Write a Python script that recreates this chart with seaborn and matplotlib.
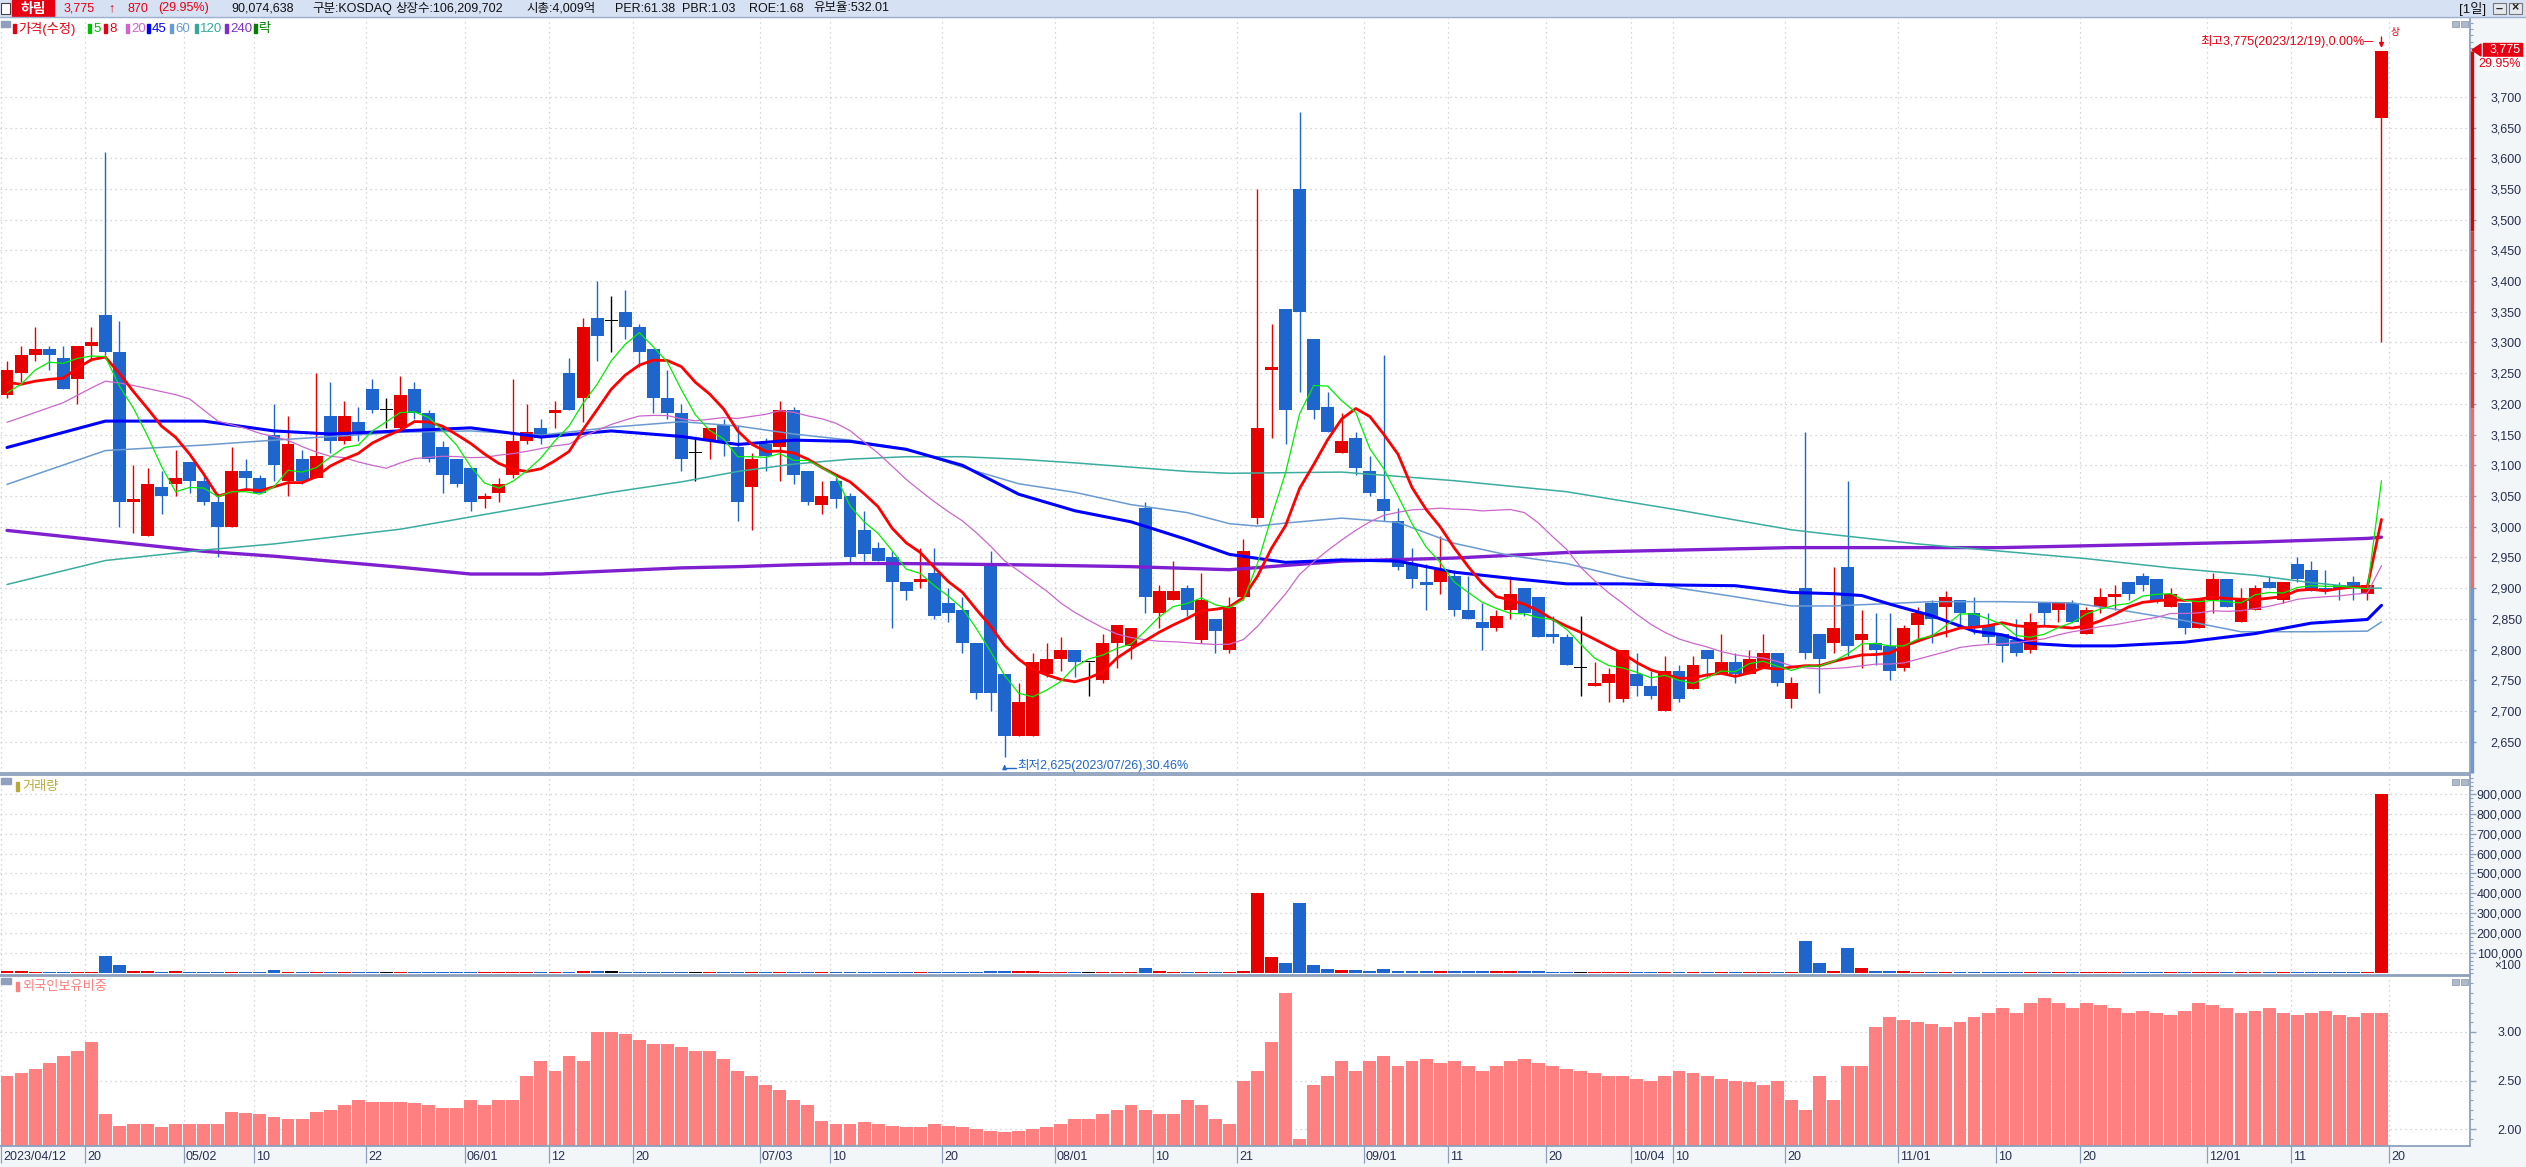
import numpy as np
import pandas as pd
import matplotlib
matplotlib.use("Agg")
import matplotlib.pyplot as plt
import seaborn as sns
from matplotlib.patches import Rectangle, Polygon
from matplotlib.lines import Line2D
from matplotlib.ticker import MultipleLocator
from matplotlib.transforms import blended_transform_factory, ScaledTranslation

# ---------------- data ----------------
opens = [3215,3250,3280,3290,3275,3240,3295,3345,3285,3040,
         2985,3065,3070,3105,3075,3040,3000,3090,3080,3150,
         3075,3110,3080,3180,3140,3170,3225,3190,3160,3225,
         3185,3130,3110,3095,3045,3055,3085,3140,3160,3185,
         3250,3210,3340,3335,3350,3325,3290,3210,3185,3120,
         3140,3165,3130,3065,3135,3130,3190,3090,3035,3075,
         3050,2995,2965,2950,2910,2910,2925,2875,2865,2810,
         2940,2760,2660,2660,2760,2785,2800,2780,2750,2810,
         2805,3030,2860,2880,2900,2815,2850,2800,2885,3015,
         3255,3355,3550,3305,3195,3120,3145,3090,3045,3010,
         2940,2910,2910,2920,2865,2845,2835,2865,2900,2885,
         2825,2820,2770,2740,2745,2720,2760,2740,2700,2765,
         2735,2800,2760,2780,2760,2770,2795,2720,2900,2825,
         2810,2935,2815,2810,2805,2770,2840,2875,2870,2880,
         2860,2840,2825,2815,2800,2875,2865,2875,2825,2870,
         2885,2910,2920,2915,2870,2875,2835,2880,2915,2845,
         2865,2910,2880,2940,2930,2900,2905,2910,2890,3665]
highs = [3270,3295,3325,3295,3295,3295,3325,3610,3335,3100,
         3095,3090,3125,3105,3085,3055,3130,3110,3085,3200,
         3180,3125,3250,3235,3205,3195,3240,3210,3245,3235,
         3190,3140,3110,3095,3055,3080,3240,3200,3175,3205,
         3275,3340,3400,3375,3385,3330,3290,3255,3200,3145,
         3160,3175,3165,3120,3145,3205,3195,3090,3075,3080,
         3055,3025,2975,2960,2910,2965,2965,2900,2885,2810,
         2960,2760,2745,2795,2810,2820,2800,2780,2825,2840,
         2835,3040,2905,2945,2905,2925,2850,2885,2980,3550,
         3330,3355,3675,3305,3220,3185,3155,3115,3280,3030,
         2965,2940,2985,2930,2920,2875,2865,2920,2900,2885,
         2855,2825,2855,2780,2770,2800,2795,2765,2790,2775,
         2790,2800,2825,2795,2800,2825,2795,2755,3155,2825,
         2935,3075,2865,2860,2860,2840,2870,2880,2895,2880,
         2885,2860,2825,2850,2860,2875,2875,2880,2870,2900,
         2905,2910,2925,2915,2900,2875,2880,2925,2915,2900,
         2905,2920,2910,2950,2945,2930,2910,2920,2905,3775]
lows = [3210,3235,3270,3255,3225,3200,3270,3280,3000,2990,
        2985,3020,3050,3055,3035,2950,3000,3060,3055,3075,
        3050,3070,3080,3120,3135,3140,3185,3160,3155,3175,
        3105,3055,3065,3025,3030,3040,3080,3135,3135,3160,
        3190,3170,3270,3285,3305,3260,3185,3175,3090,3075,
        3110,3115,3010,2995,3090,3075,3070,3035,3020,3030,
        2940,2945,2945,2835,2880,2900,2850,2845,2795,2720,
        2700,2625,2660,2660,2755,2765,2755,2725,2745,2770,
        2785,2860,2835,2880,2855,2810,2795,2795,2880,3005,
        3145,3135,3220,3175,3155,3120,3085,3050,3010,2930,
        2900,2865,2890,2855,2850,2800,2830,2850,2855,2820,
        2810,2775,2725,2740,2715,2715,2725,2720,2700,2715,
        2735,2755,2760,2745,2760,2770,2740,2705,2785,2730,
        2795,2790,2770,2775,2750,2765,2815,2810,2820,2835,
        2825,2810,2780,2790,2795,2840,2845,2845,2825,2860,
        2865,2880,2895,2875,2870,2825,2835,2860,2870,2845,
        2865,2900,2875,2910,2895,2890,2880,2880,2880,3300]
closes = [3255,3280,3290,3280,3225,3295,3300,3285,3040,3045,
          3070,3050,3080,3075,3040,3000,3090,3080,3055,3100,
          3135,3075,3115,3140,3180,3155,3190,3190,3215,3185,
          3110,3085,3070,3040,3050,3070,3140,3155,3145,3190,
          3190,3325,3310,3335,3325,3285,3210,3185,3110,3120,
          3160,3140,3040,3110,3115,3190,3085,3040,3050,3045,
          2950,2955,2945,2910,2895,2915,2855,2860,2810,2730,
          2730,2660,2715,2780,2785,2800,2780,2780,2810,2840,
          2835,2885,2895,2895,2865,2880,2830,2870,2960,3160,
          3260,3190,3350,3190,3155,3140,3095,3055,3025,2935,
          2915,2905,2930,2865,2850,2835,2855,2890,2860,2820,
          2820,2775,2770,2745,2760,2800,2740,2725,2765,2720,
          2775,2785,2780,2760,2785,2795,2745,2745,2795,2785,
          2835,2805,2825,2800,2765,2835,2860,2850,2885,2860,
          2835,2820,2805,2795,2845,2860,2875,2845,2865,2885,
          2890,2890,2905,2880,2890,2835,2880,2915,2870,2880,
          2900,2900,2910,2915,2895,2895,2900,2900,2905,3775]
# volume in units of 100 shares
volume = [6000,6000,5000,5000,5000,5000,5000,85000,40000,10000,
          10000,5000,10000,5000,5000,5000,5000,5000,5000,15000,
          5000,5000,5000,5000,5000,5000,5000,5000,5000,5000,
          5000,5000,5000,5000,5000,5000,5000,5000,5000,5000,
          5000,8000,8000,6000,5000,5000,5000,5000,5000,5000,
          5000,5000,5000,5000,5000,5000,5000,5000,5000,5000,
          5000,5000,5000,5000,5000,5000,5000,5000,5000,5000,
          6000,8000,6000,6000,5000,5000,5000,5000,5000,5000,
          5000,25000,6000,5000,5000,5000,5000,5000,8000,400000,
          80000,50000,350000,40000,20000,15000,12000,10000,20000,8000,
          6000,6000,6000,6000,6000,6000,6000,6000,6000,6000,
          5000,5000,5000,5000,5000,5000,5000,5000,5000,5000,
          5000,5000,5000,5000,5000,5000,5000,5000,160000,50000,
          10000,125000,25000,8000,6000,6000,5000,5000,5000,5000,
          5000,5000,5000,5000,5000,5000,5000,5000,5000,5000,
          5000,5000,5000,5000,5000,5000,5000,5000,5000,5000,
          5000,5000,5000,5000,5000,5000,5000,5000,5000,900746]
# foreign ownership ratio (%)
foreign = [2.55,2.58,2.62,2.68,2.75,2.80,2.90,2.15,2.03,2.05,
           2.05,2.02,2.05,2.05,2.05,2.05,2.18,2.17,2.15,2.12,
           2.10,2.10,2.18,2.20,2.25,2.30,2.28,2.28,2.28,2.27,
           2.25,2.22,2.22,2.30,2.25,2.30,2.30,2.55,2.70,2.60,
           2.75,2.70,3.00,3.00,2.98,2.92,2.88,2.88,2.85,2.80,
           2.80,2.72,2.60,2.55,2.45,2.40,2.30,2.25,2.08,2.05,
           2.05,2.07,2.05,2.03,2.02,2.02,2.05,2.03,2.02,2.00,
           1.98,1.97,1.98,2.00,2.02,2.05,2.10,2.10,2.15,2.20,
           2.25,2.20,2.15,2.15,2.30,2.25,2.10,2.05,2.50,2.60,
           2.90,3.40,1.90,2.45,2.55,2.70,2.60,2.70,2.75,2.65,
           2.70,2.72,2.68,2.70,2.65,2.60,2.65,2.70,2.72,2.68,
           2.65,2.62,2.60,2.58,2.55,2.55,2.52,2.50,2.55,2.60,
           2.58,2.55,2.52,2.50,2.48,2.45,2.50,2.30,2.20,2.55,
           2.30,2.65,2.65,3.05,3.15,3.12,3.10,3.08,3.05,3.10,
           3.15,3.20,3.25,3.20,3.30,3.35,3.30,3.25,3.30,3.28,
           3.25,3.20,3.22,3.20,3.18,3.22,3.30,3.28,3.25,3.20,
           3.22,3.25,3.20,3.18,3.20,3.22,3.18,3.15,3.20,3.20]

# moving-average values before a full window is available
ma5_head = [3218, 3232, 3255, 3268]
ma8_head = [3235, 3232, 3237, 3240, 3242, 3258, 3272]
ma20_head = [3170, 3178, 3186, 3194, 3202, 3214, 3226, 3237, 3234, 3230,
             3225, 3220, 3215, 3208, 3190, 3172, 3166, 3160, 3152]
ma45_idx = [0, 7, 14, 19, 23, 28, 33, 38, 43, 48, 52, 56, 60, 64, 68, 72, 76, 80, 84, 87,
            91, 95, 99, 103, 107, 111, 115, 119, 123, 127, 130, 132, 134, 137, 140, 142,
            144, 147, 150, 155, 160, 164, 168, 169]
ma45_val = [3129, 3172, 3172, 3156, 3151, 3156, 3161, 3146, 3156, 3147, 3134, 3141, 3139,
            3126, 3100, 3053, 3026, 3008, 2979, 2955, 2942, 2946, 2944, 2926, 2916, 2907,
            2907, 2905, 2904, 2893, 2891, 2888, 2874, 2855, 2830, 2824, 2810, 2806, 2806,
            2812, 2826, 2843, 2849, 2872]
ma60_idx = [0, 7, 14, 19, 28, 33, 38, 43, 48, 52, 56, 60, 64, 68, 72, 76, 80, 84, 87, 89,
            91, 95, 99, 103, 107, 111, 115, 119, 123, 127, 130, 137, 142, 147, 150, 155,
            159, 164, 168, 169]
ma60_val = [3069, 3124, 3133, 3141, 3154, 3156, 3149, 3162, 3171, 3164, 3151, 3141, 3127,
            3097, 3070, 3056, 3036, 3023, 3005, 3001, 3006, 3014, 3007, 2973, 2953, 2940,
            2918, 2900, 2886, 2871, 2871, 2878, 2878, 2876, 2866, 2847, 2829, 2829, 2830,
            2845]
ma120_idx = [0, 7, 14, 19, 28, 33, 38, 43, 48, 52, 56, 60, 64, 68, 72, 76, 80, 84, 87, 95,
             103, 111, 119, 127, 130, 136, 142, 148, 154, 160, 164, 168, 169]
ma120_val = [2906, 2945, 2962, 2972, 2996, 3016, 3036, 3056, 3073, 3090, 3102, 3110, 3114,
             3114, 3110, 3104, 3097, 3090, 3087, 3089, 3075, 3057, 3027, 2995, 2987, 2972,
             2960, 2948, 2933, 2921, 2909, 2900, 2900]
ma240_idx = [0, 7, 14, 19, 28, 33, 38, 43, 48, 52, 56, 60, 64, 72, 80, 87, 95, 103, 111,
             119, 127, 130, 142, 150, 160, 168, 169]
ma240_val = [2994, 2977, 2960, 2952, 2934, 2923, 2923, 2928, 2933, 2935, 2938, 2940, 2940,
             2938, 2935, 2930, 2944, 2949, 2958, 2962, 2966, 2966, 2966, 2970, 2975, 2981,
             2983]

tick_idx = [0, 6, 13, 18, 26, 33, 39, 45, 54, 59, 67, 75, 82, 88, 97, 103, 110, 116, 119,
            127, 135, 142, 148, 157, 163, 170]
tick_labels = ["2023/04/12", "20", "05/02", "10", "22", "06/01", "12", "20", "07/03", "10",
               "20", "08/01", "10", "21", "09/01", "11", "20", "10/04", "10", "20", "11/01",
               "10", "20", "12/01", "11", "20"]
price_ticks = list(range(2650, 3701, 50))
vol_ticks = [100000, 200000, 300000, 400000, 500000, 600000, 700000, 800000, 900000]
foreign_ticks = [2.0, 2.5, 3.0]

header_items = [("3,775", "#E60012", 64), ("\u2191", "#E60012", 108), ("870", "#E60012", 127),
                ("(29.95%)", "#E60012", 158), ("90,074,638", "#111111", 231),
                ("구분:KOSDAQ", "#111111", 312), ("상장수:106,209,702", "#111111", 395),
                ("시총:4,009억", "#111111", 526), ("PER:61.38", "#111111", 615),
                ("PBR:1.03", "#111111", 682), ("ROE:1.68", "#111111", 749),
                ("유보율:532.01", "#111111", 813)]
legend_items = [("가격(수정)", "#E60012", 13), ("5", "#00C000", 88), ("8", "#E60012", 104),
                ("20", "#CC66CC", 126), ("45", "#0000FF", 147), ("60", "#6A9BD8", 170),
                ("120", "#33AA99", 195), ("240", "#7F2FD0", 225), ("락", "#008000", 254)]

# ---------------- figure ----------------
sns.set_theme(style="white")
plt.rcParams['font.family'] = ['Liberation Sans', 'Noto Sans CJK KR', 'DejaVu Sans']
plt.rcParams['axes.unicode_minus'] = False

W, H = 2526, 1167
fig = plt.figure(figsize=(W / 100, H / 100), dpi=100)
fig.patch.set_facecolor('#F2F6F8')

RED, BLUE, BLACK = '#E60000', '#1E66CD', '#000000'
AX_C = '#8EA0BD'
TXT_C = '#26304F'


def fxy(px, py):
    return px / W, 1 - py / H


def ftext(px, py, s, **kw):
    x, y = fxy(px, py)
    return fig.text(x, y, s, **kw)


def frect(px, py, w, h, **kw):
    x, y = fxy(px, py + h)
    r = Rectangle((x, y), w / W, h / H, transform=fig.transFigure, **kw)
    fig.patches.append(r)
    return r


def fline(xs, ys, **kw):
    fig.add_artist(Line2D([x / W for x in xs], [1 - y / H for y in ys],
                          transform=fig.transFigure, **kw))


PR = 2470


def add_panel(top, bottom):
    return fig.add_axes([0, 1 - bottom / H, PR / W, (bottom - top) / H])


ax_p = add_panel(17, 773)
ax_v = add_panel(775, 975)
ax_f = add_panel(976, 1146)

n = len(closes)
idx = np.arange(n)
df = pd.DataFrame({'i': idx, 'open': opens, 'high': highs, 'low': lows,
                   'close': closes, 'vol': volume, 'foreign': foreign})
df['dir'] = np.where(df.close > df.open, 'up', np.where(df.close < df.open, 'down', 'flat'))
pal = {'up': RED, 'down': BLUE, 'flat': BLACK}
cols = df['dir'].map(pal).tolist()

# moving averages
ma5 = df.close.rolling(5).mean().to_numpy()
ma5[:len(ma5_head)] = ma5_head
ma8 = df.close.rolling(8).mean().to_numpy()
ma8[:len(ma8_head)] = ma8_head
ma20 = df.close.rolling(20).mean().to_numpy()
ma20[:len(ma20_head)] = ma20_head

XL = (-0.5, 175.3)
tick_pos = np.array(tick_idx) - 0.43


def style(ax, ylim, yticks, labels, minor):
    ax.set_xlim(*XL)
    ax.set_ylim(*ylim)
    ax.set_facecolor('white')
    ax.spines['left'].set_visible(False)
    for s in ['top', 'right', 'bottom']:
        ax.spines[s].set_color(AX_C)
        ax.spines[s].set_linewidth(1.3)
    ax.yaxis.tick_right()
    ax.set_yticks(yticks)
    ax.set_yticklabels(labels)
    ax.yaxis.set_minor_locator(MultipleLocator(minor))
    ax.tick_params(axis='y', which='major', length=4, width=1, color=AX_C, pad=33.4,
                   labelsize=9, labelcolor=TXT_C, right=True, left=False)
    ax.tick_params(axis='y', which='minor', length=2, width=0.8, color=AX_C,
                   right=True, left=False)
    for lab in ax.get_yticklabels():
        lab.set_horizontalalignment('right')
    ax.set_xticks(tick_pos)
    ax.set_xlabel('')
    ax.set_ylabel('')
    ax.set_axisbelow(True)
    ax.grid(True, which='major', ls=(0, (1, 3)), color='#C4CAD2', lw=0.9)


# ---- price panel ----
ax_p.vlines(df.i, df.low, df.high, colors=cols, lw=1.0, zorder=3)
body_lo = np.minimum(df.open, df.close)
body_h = np.maximum(np.abs(df.close - df.open), 1.7)
ax_p.bar(df.i, body_h, bottom=body_lo, width=0.92, color=cols, linewidth=0, zorder=4)

sns.lineplot(x=ma240_idx, y=ma240_val, ax=ax_p, color='#7F1FD0', lw=2.4, zorder=5)
sns.lineplot(x=ma120_idx, y=ma120_val, ax=ax_p, color='#3AAD9E', lw=1.1, zorder=5)
sns.lineplot(x=ma60_idx, y=ma60_val, ax=ax_p, color='#6B9AD0', lw=1.1, zorder=5)
sns.lineplot(x=ma45_idx, y=ma45_val, ax=ax_p, color='#0000FF', lw=2.2, zorder=5)
sns.lineplot(x=idx, y=ma20, ax=ax_p, color='#CC66CC', lw=0.9, zorder=5)
sns.lineplot(x=idx, y=ma8, ax=ax_p, color='#FF0000', lw=2.0, zorder=6)
sns.lineplot(x=idx, y=ma5, ax=ax_p, color='#00EE00', lw=0.9, zorder=6)

style(ax_p, (2599, 3830), price_ticks, [f"{v:,}" for v in price_ticks], 10)
ax_p.tick_params(axis='x', length=0, labelbottom=False)

# right-axis range indicator
tr = blended_transform_factory(ax_p.transAxes, ax_p.transData)
for a, b, c in [(3775, 3482, '#E00000'), (3482, 3193, '#E83535'),
                (3193, 2901, '#F06A6A'), (2901, 2599, '#6A98DA')]:
    ax_p.add_line(Line2D([1.0009, 1.0009], [a, b], transform=tr, color=c, lw=2.4,
                         clip_on=False, zorder=10, solid_capstyle='butt'))

# extremes annotations
ax_p.annotate("", xy=(169, 3775), xytext=(169, 3802),
              arrowprops=dict(arrowstyle='-|>', color='#E60012', lw=1.0, mutation_scale=7))
ax_p.text(168.4, 3790, "최고3,775(2023/12/19),0.00%\u2500", color='#E60012', fontsize=9,
          ha='right', va='center')
ax_p.text(170.0, 3806, "상", color='#E60012', fontsize=7, ha='center', va='center')
ax_p.text(71.9, 2611, "최저2,625(2023/07/26),30.46%", color='#1E66CD', fontsize=9,
          ha='left', va='center')
ax_p.annotate("", xy=(71, 2617), xytext=(71, 2604),
              arrowprops=dict(arrowstyle='-|>', color='#1E66CD', lw=1.0, mutation_scale=6))
ax_p.plot([71, 71.8], [2607, 2607], color='#1E66CD', lw=1.0)

# ---- volume panel ----
sns.barplot(data=df, x='i', y='vol', hue='dir', hue_order=['up', 'down', 'flat'],
            palette=pal, native_scale=True, width=0.92, dodge=False, saturation=1,
            legend=False, errorbar=None, linewidth=0, ax=ax_v)
style(ax_v, (-12600, 995800), vol_ticks, [f"{v:,}" for v in vol_ticks], 20000)
ax_v.tick_params(axis='x', length=0, labelbottom=False)

# ---- foreign ownership panel ----
sns.barplot(data=df, x='i', y='foreign', native_scale=True, width=0.92, color='#FF8080',
            saturation=1, errorbar=None, linewidth=0, ax=ax_f)
style(ax_f, (1.825, 3.577), foreign_ticks, [f"{v:.2f}" for v in foreign_ticks], 0.1)
ax_f.set_xticklabels(tick_labels)
ax_f.tick_params(axis='x', which='major', length=12, width=0.9, color=AX_C, pad=-8.4,
                 labelsize=9, labelcolor=TXT_C, bottom=True, direction='out')
for lab in ax_f.get_xticklabels():
    lab.set_horizontalalignment('left')
    lab.set_transform(lab.get_transform() + ScaledTranslation(0.02, 0, fig.dpi_scale_trans))

# ---------------- header & decorations ----------------
frect(0, 0, W, 17, color='#D6E1F4', zorder=0)
fline([0, W], [17, 17], color='#9FB0CE', lw=1.0)
frect(1, 3, 9, 11, facecolor='white', edgecolor='#444444', lw=0.8)
frect(12, 0, 42, 16, color='#E60012')
ftext(33, 8.5, "하림", color='white', fontsize=10, ha='center', va='center',
      fontweight='bold')
for s, c, x in header_items:
    ftext(x, 8.5, s, color=c, fontsize=9, ha='left', va='center',
          fontweight='bold' if s == "\u2191" else 'normal')
ftext(2459, 8.5, "[1일]", color='#111111', fontsize=9.5, ha='left', va='center')
for bx, sym in [(2493, "\u2013"), (2509, "\u00d7")]:
    frect(bx, 3, 13, 11, facecolor='#E4E8EE', edgecolor='#777777', lw=0.8)
    ftext(bx + 6.5, 8.5, sym, color='#222222', fontsize=9, ha='center', va='center',
          fontweight='bold')

# legend of price panel
frect(1, 21, 9, 6, color='#8EA0BD')
for s, c, x in legend_items:
    frect(x, 24, 3, 9, color=c)
    ftext(x + 5, 29, s, color=c, fontsize=9.5, ha='left', va='center')

# panel labels
frect(1, 778, 10, 6, color='#8EA0BD')
frect(16, 782, 3, 9, color='#B8AA38')
ftext(22, 787, "거래량", color='#B8AA38', fontsize=9.5, ha='left', va='center')
frect(1, 978, 10, 6, color='#8EA0BD')
frect(16, 982, 3, 9, color='#FF8080')
ftext(22, 987, "외국인보유비중", color='#FF8080', fontsize=9.5, ha='left', va='center')

# tiny window icons at panel tops
for y0 in (21, 779, 979):
    for x0 in (2452, 2461):
        frect(x0, y0, 7, 6, facecolor='#AEB9CC', edgecolor='#8794AA', lw=0.5)

# current price tag
fig.patches.append(Polygon([fxy(2472, 50), fxy(2481, 44), fxy(2481, 56)], closed=True,
                           transform=fig.transFigure, color='#E60012'))
frect(2483, 43, 39, 14, color='#E60012')
ftext(2521, 50, "3,775", color='white', fontsize=9, ha='right', va='center')
frect(2483, 57, 39, 13, color='white')
ftext(2521, 64, "29.95%", color='#E60012', fontsize=9, ha='right', va='center')
ftext(2521, 966, "\u00d7100", color=TXT_C, fontsize=8.5, ha='right', va='center')

fig.savefig("out.png", dpi=100, facecolor=fig.get_facecolor())
